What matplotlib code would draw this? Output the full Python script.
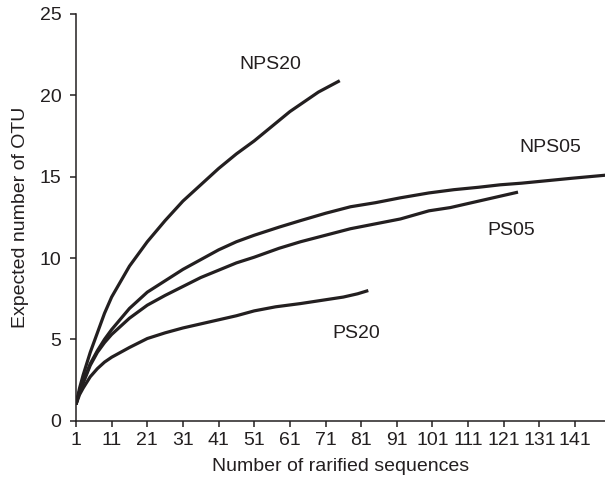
import numpy as np
import matplotlib
matplotlib.use("Agg")
import matplotlib.pyplot as plt

# rarefaction curves, values
nps20_n = [1, 2, 3, 5, 7, 9, 11, 16, 21, 26, 31, 36, 41, 46, 51, 56, 61, 65, 69, 75]
nps20_y = [1.0, 2.0, 2.8, 4.2, 5.4, 6.6, 7.6, 9.5, 11.0, 12.3, 13.5, 14.5, 15.5,
           16.4, 17.2, 18.1, 19.0, 19.6, 20.2, 20.9]

nps05_n = [1, 2, 3, 5, 7, 9, 11, 16, 21, 26, 31, 36, 41, 46, 51, 58, 64, 71, 78,
           85, 92, 100, 107, 114, 120, 126, 133, 140, 145, 150]
nps05_y = [1.0, 1.8, 2.4, 3.5, 4.3, 5.0, 5.6, 6.9, 7.9, 8.6, 9.3, 9.9, 10.5,
           11.0, 11.4, 11.9, 12.3, 12.75, 13.15, 13.4, 13.7, 14.0, 14.2, 14.35,
           14.5, 14.6, 14.75, 14.9, 15.0, 15.1]

ps05_n = [1, 2, 3, 5, 7, 9, 11, 16, 21, 26, 31, 36, 41, 46, 51, 58, 64, 71, 78,
          85, 92, 100, 106, 112, 118, 125]
ps05_y = [1.0, 1.8, 2.3, 3.4, 4.2, 4.8, 5.3, 6.3, 7.1, 7.7, 8.25, 8.8, 9.25,
          9.7, 10.05, 10.6, 11.0, 11.4, 11.8, 12.1, 12.4, 12.9, 13.1, 13.4,
          13.7, 14.05]

ps20_n = [1, 2, 3, 5, 7, 9, 11, 16, 21, 26, 31, 36, 41, 46, 51, 57, 64, 70, 76,
          80, 83]
ps20_y = [1.0, 1.6, 2.0, 2.7, 3.2, 3.6, 3.9, 4.5, 5.05, 5.4, 5.7, 5.95, 6.2,
          6.45, 6.75, 7.0, 7.2, 7.4, 7.6, 7.8, 8.0]

x_ticks = list(range(1, 150, 10))
y_ticks = [0, 5, 10, 15, 20, 25]

plt.rcParams["font.family"] = ["Liberation Sans", "DejaVu Sans"]
plt.rcParams["font.size"] = 14

fig = plt.figure(figsize=(6.05, 4.86), dpi=100)
ax = fig.add_axes([0.1256, 0.1344, 0.8744, 0.8368])

line_kw = dict(color="#231f20", lw=2.3, solid_capstyle="butt")
ax.plot(nps20_n, nps20_y, **line_kw)
ax.plot(nps05_n, nps05_y, **line_kw)
ax.plot(ps05_n, ps05_y, **line_kw)
ax.plot(ps20_n, ps20_y, **line_kw)

ax.text(55.4, 21.9, "NPS20", ha="center", va="center", color="#231f20")
ax.text(134, 16.8, "NPS05", ha="center", va="center", color="#231f20")
ax.text(123, 11.7, "PS05", ha="center", va="center", color="#231f20")
ax.text(79.7, 5.33, "PS20", ha="center", va="center", color="#231f20")

ax.set_xlim(1, 149.4)
ax.set_ylim(0, 25)
ax.set_xticks(x_ticks)
ax.set_yticks(y_ticks)
ax.tick_params(direction="out", length=4.5, width=1.1, color="#231f20",
               labelcolor="#231f20")
ax.tick_params(axis="x", pad=4)
ax.tick_params(axis="y", pad=6)

for side in ["top", "right"]:
    ax.spines[side].set_visible(False)
for side in ["left", "bottom"]:
    ax.spines[side].set_linewidth(1.1)
    ax.spines[side].set_color("#231f20")

ax.set_xlabel("Number of rarified sequences", color="#231f20", labelpad=6)
ax.set_ylabel("Expected number of OTU", color="#231f20", labelpad=8)

fig.savefig("out.png", dpi=100)
